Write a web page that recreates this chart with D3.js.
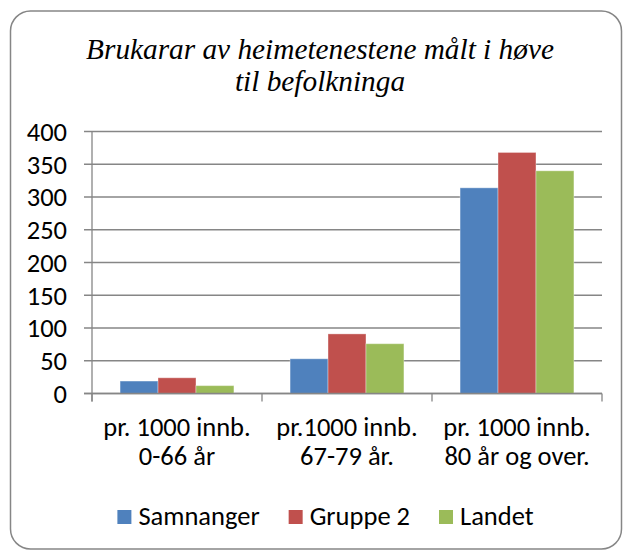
<!DOCTYPE html>
<html>
<head>
<meta charset="utf-8">
<script src="https://cdn.jsdelivr.net/npm/d3@7"></script>
<style>
    body { margin: 0; background: #fff; }
    svg text { font-family: Calibri, Carlito, Lato, sans-serif; fill: #000; }
    .title { font-family: "Liberation Serif", "Times New Roman", serif; font-style: italic; }
    .grid line { stroke: #868686; stroke-width: 1.3; }
</style>
</head>
<body>
<svg id="canvas" width="623" height="550"></svg>
<script>
document.addEventListener("DOMContentLoaded", function() {

    const titleLines = ["Brukarar av heimetenestene målt i høve", "til befolkninga"];
    const categories = [
        ["pr. 1000 innb.", "0-66 år"],
        ["pr.1000 innb.", "67-79 år."],
        ["pr. 1000 innb.", "80 år og over."]
    ];
    const seriesNames = ["Samnanger", "Gruppe 2", "Landet"];
    const seriesColors = ["#4F81BD", "#C0504D", "#9BBB59"];
    const samnanger = [19, 53, 314];
    const gruppe2 = [24, 91, 368];
    const landet = [12, 76, 340];
    const yTicks = [0, 50, 100, 150, 200, 250, 300, 350, 400];

    const values = [samnanger, gruppe2, landet];
    const labelSize = "26.5px";

    const svg = d3.select("#canvas");

    // outer frame
    svg.append("rect")
        .attr("x", 10.5).attr("y", 11)
        .attr("width", 611).attr("height", 538)
        .attr("rx", 20).attr("ry", 20)
        .attr("fill", "#fff")
        .attr("stroke", "#868686")
        .attr("stroke-width", 1.5);

    // title
    svg.append("text")
        .attr("class", "title")
        .attr("text-anchor", "middle")
        .style("font-size", "29.3px")
        .selectAll("tspan")
        .data(titleLines)
        .enter()
        .append("tspan")
        .attr("x", 320)
        .attr("y", (d, i) => 59 + i * 32)
        .text(d => d);

    const left = 92, right = 602, top = 131.5, bottom = 393.5;

    const y = d3.scaleLinear().domain([0, 400]).range([bottom, top]);
    const x0 = d3.scaleBand().domain(d3.range(categories.length)).range([left, right]);
    const x1 = d3.scaleBand().domain(d3.range(seriesNames.length))
        .range([0, x0.bandwidth()])
        .paddingInner(0)
        .paddingOuter(0.74);

    // gridlines + y labels
    const grid = svg.append("g").attr("class", "grid");
    grid.selectAll("line")
        .data(yTicks)
        .enter()
        .append("line")
        .attr("x1", left - 8)
        .attr("x2", right)
        .attr("y1", d => y(d))
        .attr("y2", d => y(d));

    svg.append("g")
        .selectAll("text")
        .data(yTicks)
        .enter()
        .append("text")
        .attr("x", 67)
        .attr("y", d => y(d))
        .attr("dy", "0.35em")
        .attr("text-anchor", "end")
        .style("font-size", labelSize)
        .text(d => d);

    // bars
    const groups = svg.append("g")
        .selectAll("g")
        .data(categories)
        .enter()
        .append("g")
        .attr("transform", (d, i) => `translate(${x0(i)},0)`);

    groups.selectAll("rect")
        .data((d, i) => values.map((s, j) => ({ s: j, v: s[i] })))
        .enter()
        .append("rect")
        .attr("x", d => x1(d.s))
        .attr("width", x1.bandwidth())
        .attr("y", d => y(d.v))
        .attr("height", d => y(0) - y(d.v))
        .attr("fill", d => seriesColors[d.s])
        .attr("stroke", "#fff")
        .attr("stroke-opacity", 0.35)
        .attr("stroke-width", 1);

    // axes
    svg.append("line")
        .attr("x1", left).attr("x2", left)
        .attr("y1", top).attr("y2", bottom + 8)
        .attr("stroke", "#868686").attr("stroke-width", 1.3);

    svg.append("line")
        .attr("x1", left - 8).attr("x2", right)
        .attr("y1", bottom).attr("y2", bottom)
        .attr("stroke", "#868686").attr("stroke-width", 1.3);

    svg.append("g")
        .selectAll("line")
        .data(d3.range(categories.length + 1))
        .enter()
        .append("line")
        .attr("x1", d => left + d * x0.bandwidth())
        .attr("x2", d => left + d * x0.bandwidth())
        .attr("y1", bottom)
        .attr("y2", bottom + 8)
        .attr("stroke", "#868686").attr("stroke-width", 1.3);

    // category labels
    svg.append("g")
        .selectAll("text")
        .data(categories)
        .enter()
        .append("text")
        .attr("text-anchor", "middle")
        .style("font-size", labelSize)
        .each(function(d, i) {
            d3.select(this).selectAll("tspan")
                .data(d)
                .enter()
                .append("tspan")
                .attr("x", x0(i) + x0.bandwidth() / 2)
                .attr("y", (t, k) => 436 + k * 29)
                .text(t => t);
        });

    // legend
    const legend = svg.append("g");
    const items = legend.selectAll("g")
        .data(seriesNames)
        .enter()
        .append("g");

    items.append("rect")
        .attr("width", 14).attr("height", 14)
        .attr("y", 510)
        .attr("fill", (d, i) => seriesColors[i]);

    items.append("text")
        .attr("x", 21)
        .attr("y", 525)
        .style("font-size", labelSize)
        .text(d => d);

    let pos = 0;
    const gap = 29;
    items.each(function() {
        const w = 21 + this.querySelector("text").getComputedTextLength();
        d3.select(this).attr("transform", `translate(${pos},0)`);
        pos += w + gap;
    });
    const totalWidth = pos - gap;
    legend.attr("transform", `translate(${325.5 - totalWidth / 2},0)`);
});
</script>
</body>
</html>
